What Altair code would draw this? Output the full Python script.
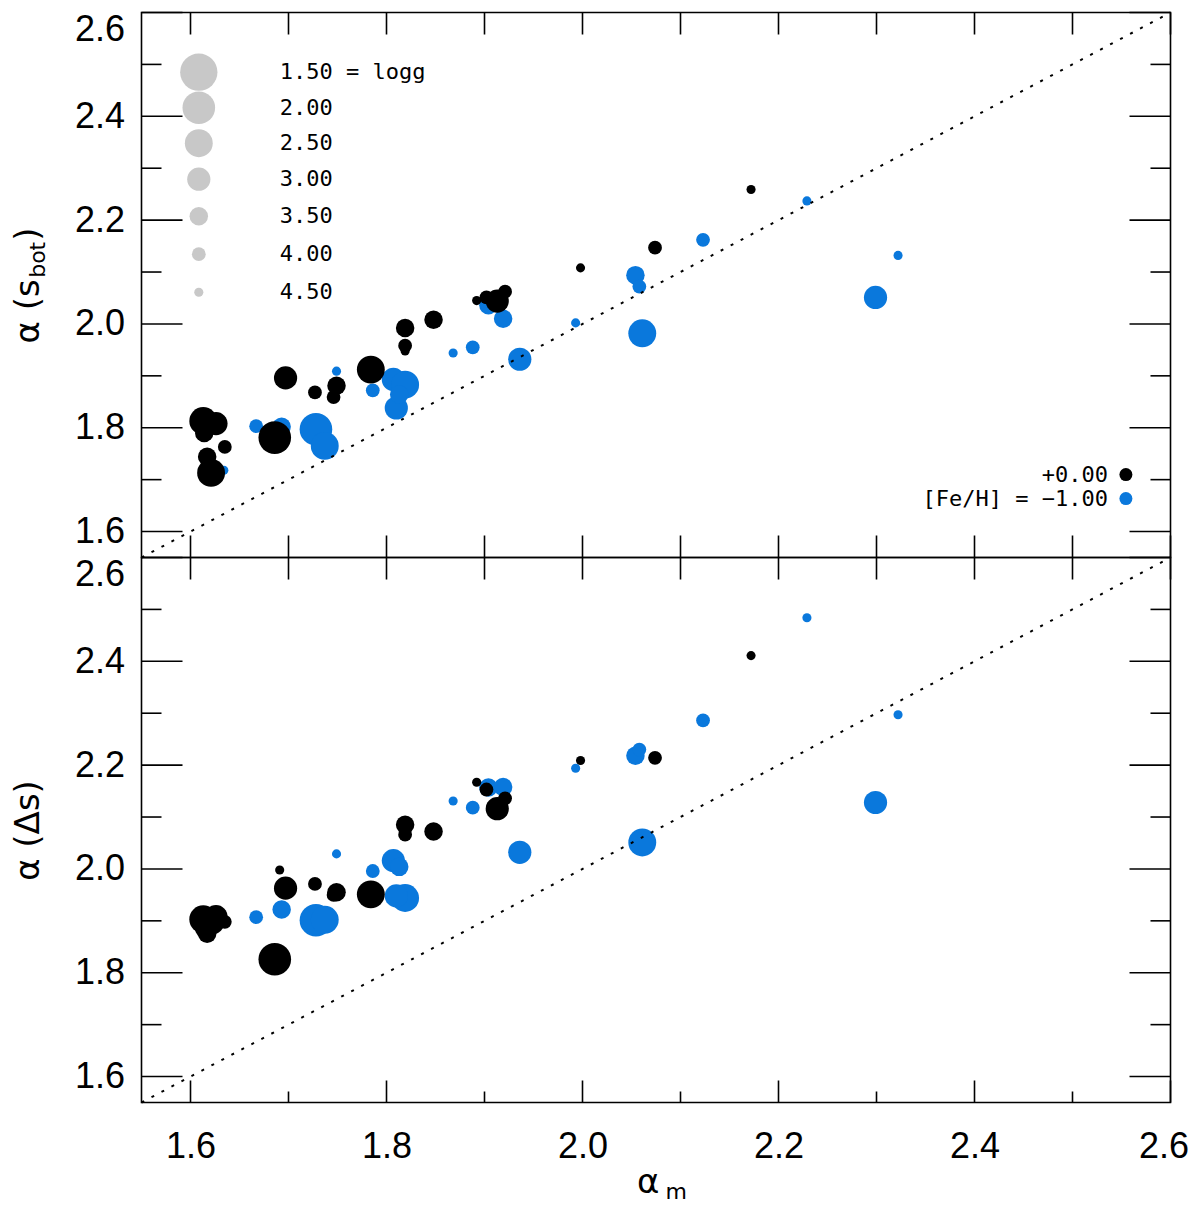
import altair as alt
import pandas as pd

# ---------------- data ----------------
feh_labels = ["+0.00", "[Fe/H] = \u22121.00"]
logg_levels = [1.5, 2.0, 2.5, 3.0, 3.5, 4.0, 4.5]

black_am = [1.613, 1.626, 1.614, 1.635, 1.617, 1.621, 1.686, 1.697, 1.691, 1.727, 1.749, 1.746,
            1.784, 1.819, 1.819, 1.819, 1.848, 1.892, 1.902, 1.913, 1.921, 1.998, 2.074, 2.172]
black_logg = [2.5, 3.0, 3.5, 4.0, 3.5, 2.5, 2.0, 3.0, 4.5, 4.0, 3.5, 4.0,
              2.5, 3.5, 4.0, 4.5, 3.5, 4.5, 4.0, 3.0, 4.0, 4.5, 4.0, 4.5]
black_sbot = [1.813, 1.808, 1.790, 1.763, 1.744, 1.713, 1.781, 1.896, 1.790, 1.868, 1.881, 1.859,
              1.912, 1.992, 1.958, 1.948, 2.008, 2.045, 2.051, 2.044, 2.062, 2.108, 2.147, 2.259]
black_ds = [1.903, 1.908, 1.885, 1.898, 1.875, 1.900, 1.826, 1.963, 1.998, 1.971, 1.955, 1.950,
            1.951, 2.085, 2.066, 2.072, 2.072, 2.167, 2.153, 2.116, 2.136, 2.209, 2.214, 2.411]

blue_am = [1.634, 1.667, 1.693, 1.728, 1.737, 1.749, 1.786, 1.807, 1.819, 1.810, 1.813, 1.868,
           1.888, 1.904, 1.919, 1.936, 1.993, 2.054, 2.058, 2.061, 2.123, 2.229, 2.322, 2.299]
blue_logg = [4.5, 4.0, 3.5, 2.0, 2.5, 4.5, 4.0, 3.0, 2.5, 3.0, 3.5, 4.5,
             4.0, 3.5, 3.5, 3.0, 4.5, 3.5, 4.0, 2.5, 4.0, 4.5, 4.5, 3.0]
blue_sbot = [1.718, 1.803, 1.802, 1.797, 1.765, 1.909, 1.872, 1.893, 1.883, 1.838, 1.864, 1.944,
             1.955, 2.036, 2.010, 1.932, 2.002, 2.094, 2.072, 1.982, 2.162, 2.237, 2.132, 2.051]
blue_ds = [1.900, 1.907, 1.922, 1.901, 1.902, 2.029, 1.996, 2.016, 1.944, 1.948, 2.004, 2.131,
           2.118, 2.157, 2.158, 2.032, 2.194, 2.218, 2.230, 2.051, 2.286, 2.484, 2.297, 2.128]

y_major = [1.6, 1.8, 2.0, 2.2, 2.4, 2.6]
y_minor = [1.7, 1.9, 2.1, 2.3, 2.5]
x_major = [1.6, 1.8, 2.0, 2.2, 2.4, 2.6]
x_minor = [1.7, 1.9, 2.1, 2.3, 2.5]
x_every = sorted(x_major + x_minor)
one_to_one = [1.55, 2.6]

# ---------------- table ----------------
rows = []
for feh, am, lg, sb, ds in [(feh_labels[1], blue_am, blue_logg, blue_sbot, blue_ds),
                            (feh_labels[0], black_am, black_logg, black_sbot, black_ds)]:
    for a, g, s, d in zip(am, lg, sb, ds):
        rows.append({"am": a, "logg": g, "sbot": s, "ds": d, "feh": feh})
df = pd.DataFrame(rows)
df["draw"] = range(len(df))

W, H = 1029, 545
LW = 1.6
TX = -103  # baseline of the rotated y titles, relative to the plot's left edge
XS = alt.Scale(domain=[1.55, 2.6], nice=False, zero=False)
YS = alt.Scale(domain=[1.55, 2.6], nice=False, zero=False)
# symbol size = (diameter in px)^2
SIZE = alt.Scale(domain=logg_levels, range=[1391, 1063, 778, 538, 342, 190, 83])
COLOR = alt.Scale(domain=feh_labels, range=["#000000", "#0a78dc"])

size_legend = alt.Legend(
    orient="none", legendX=38.3, legendY=40.7, title=None, values=logg_levels,
    labelExpr="format(datum.value, '.2f') + (datum.value == 1.5 ? ' = logg' : '')",
    labelFont="DejaVu Sans Mono", labelFontSize=22, labelColor="black", labelOffset=62,
    symbolType="circle", symbolFillColor="#c8c8c8", symbolStrokeColor="#c8c8c8",
    symbolStrokeWidth=0, symbolOpacity=1, rowPadding={"expr": "-3"}, gridAlign="all",
    padding=0, labelLimit=400)
color_legend = alt.Legend(
    orient="none", legendX=973.4, legendY=451.1, title=None,
    labelFont="DejaVu Sans Mono", labelFontSize=22, labelColor="black",
    labelAlign="right", labelOffset={"expr": "-29"}, labelLimit=400,
    symbolType="circle", symbolSize=169, symbolStrokeWidth=0, symbolOpacity=1,
    rowPadding=2, padding=0)

TOP_Y = alt.Axis(values=y_major, format=".1f", labelFlush=True, labelPadding=17, title=None)
BOT_Y = alt.Axis(values=y_major, format=".1f", labelFlush=True, labelPadding=17,
                 title="\u03b1 (\u0394s)", titleAngle=270, titleX=TX, titleY=H / 2,
                 titleAlign="center", titleBaseline="alphabetic")
BOT_X = alt.Axis(values=x_major, format=".1f", labelPadding=27, labelFlush=True,
                 labelFlushOffset=18, title=None)


def points(yfield, yax, xax, legends):
    return alt.Chart(df).mark_circle(opacity=1).encode(
        x=alt.X("am:Q", scale=XS, axis=xax),
        y=alt.Y(f"{yfield}:Q", scale=YS, axis=yax),
        size=alt.Size("logg:Q", scale=SIZE, legend=size_legend if legends else None),
        color=alt.Color("feh:N", scale=COLOR, legend=color_legend if legends else None),
        order=alt.Order("draw:Q"),
    )


def hticks(vals, x0, x1, yax):
    return alt.Chart(pd.DataFrame({"v": vals})).mark_rule(color="black", strokeWidth=LW).encode(
        y=alt.Y("v:Q", scale=YS, axis=yax), x=alt.value(x0), x2=alt.value(x1))


def vticks(vals, y0, y1, xax):
    return alt.Chart(pd.DataFrame({"v": vals})).mark_rule(color="black", strokeWidth=LW).encode(
        x=alt.X("v:Q", scale=XS, axis=xax), y=alt.value(y0), y2=alt.value(y1))


def diag(xax, yax):
    return alt.Chart(pd.DataFrame({"d": one_to_one})).mark_line(
        color="black", strokeWidth=2, strokeDash=[3, 8.3]).encode(
        x=alt.X("d:Q", scale=XS, axis=xax), y=alt.Y("d:Q", scale=YS, axis=yax))


def label(txt, x, y, size, angle=0, align="left"):
    return alt.Chart(alt.Data(values=[{}])).mark_text(
        text=txt, font="DejaVu Sans", fontSize=size, angle=angle, align=align,
        baseline="alphabetic", color="black").encode(x=alt.value(x), y=alt.value(y))


def y_ticks(yax):
    return [hticks(y_major, 0, 41, yax), hticks(y_minor, 0, 20, yax),
            hticks(y_major, W, W - 41, yax), hticks(y_minor, W, W - 20, yax)]


top = alt.layer(
    points("sbot", TOP_Y, None, True),
    diag(None, TOP_Y),
    *y_ticks(TOP_Y),
    vticks(x_every, 0, 22, None), vticks(x_every, H, H - 22, None),
    label("\u03b1 (s", TX, 330.9, 34, angle=270),
    label("bot", TX + 6, 265.3, 22, angle=270),
    label(")", TX, 228.3, 34, angle=270),
).properties(width=W, height=H)

bottom = alt.layer(
    points("ds", BOT_Y, BOT_X, False),
    diag(BOT_X, BOT_Y),
    *y_ticks(BOT_Y),
    vticks(x_every, 0, 22, BOT_X), vticks(x_major, H, H - 22, BOT_X),
    vticks(x_minor, H, H - 11, BOT_X),
    label("\u03b1", 518, H + 90, 34, align="right"),
    label("m", 524, H + 96, 22),
).properties(width=W, height=H)

chart = alt.vconcat(top, bottom, spacing=0, bounds="flush").resolve_legend(
    size="independent", color="independent"
).properties(
    padding={"left": 2.5, "top": -0.5, "right": 0, "bottom": 0}
).configure_view(
    stroke="black", strokeWidth=LW
).configure_axis(
    labelFont="Liberation Sans", labelFontSize=36, labelColor="black",
    ticks=False, domain=False, grid=False,
    titleFont="DejaVu Sans", titleFontSize=34, titleFontWeight="normal", titleColor="black",
)

chart.save("out.html", embed_options={"renderer": "svg", "actions": False})
